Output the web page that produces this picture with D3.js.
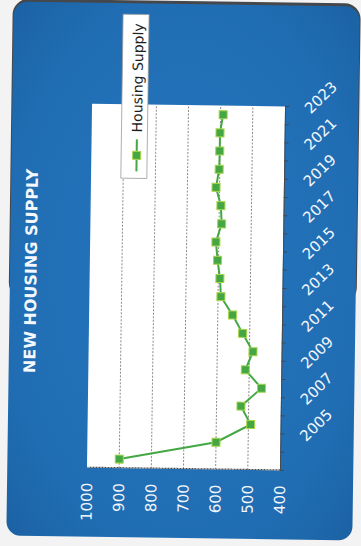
<!DOCTYPE html>
<html>
<head>
<meta charset="utf-8">
<script src="https://cdn.jsdelivr.net/npm/d3@7"></script>
<style>
  html, body { margin: 0; padding: 0; background: #f3f3f3; }
  svg { display: block; }
</style>
</head>
<body>
<svg id="chart" width="361" height="546"></svg>
<script>
// New housing supply, 2004–2023
const years = ["2004", "2005", "2006", "2007", "2008", "2009", "2010", "2011", "2012", "2013",
               "2014", "2015", "2016", "2017", "2018", "2019", "2020", "2021", "2022", "2023"];
const supply = [900, 600, 493, 524, 461, 512, 489, 522, 554, 591,
                595, 603, 609, 592, 595, 611, 602, 601, 601, 592];
const valueTicks = [1000, 900, 800, 700, 600, 500, 400];
const gridValues = [900, 800, 700, 600, 500];
const yearLabels = ["2005", "2007", "2009", "2011", "2013", "2015", "2017", "2019", "2021", "2023"];
const seriesName = "Housing Supply";
const title = "NEW HOUSING SUPPLY";

const W = 361, H = 546;
const svg = d3.select("#chart");

const defs = svg.append("defs");
const grad = defs.append("radialGradient").attr("id", "cardFill")
  .attr("cx", "50%").attr("cy", "50%").attr("r", "75%");
grad.append("stop").attr("offset", "0%").attr("stop-color", "#2575bd");
grad.append("stop").attr("offset", "70%").attr("stop-color", "#206db3");
grad.append("stop").attr("offset", "100%").attr("stop-color", "#1a5f9f");

// whole card sits slightly tilted
const page = svg.append("g").attr("transform", "rotate(0.8,180,273)");

// dark edge along the top of the card, then the blue card
page.append("rect").attr("x", 9).attr("y", 1).attr("width", 348).attr("height", 300)
  .attr("rx", 16).attr("fill", "#44474c");
page.append("rect").attr("x", 10).attr("y", 4).attr("width", 346).attr("height", 534)
  .attr("rx", 14).attr("fill", "url(#cardFill)");

// the chart itself is laid out sideways (rotated a quarter turn)
const chart = page.append("g").attr("transform", `translate(0,${H}) rotate(-90)`);

const plot = { left: 77, top: 89.7, width: 364, height: 193 };

const x = d3.scaleBand().domain(years)
  .range([plot.left, plot.left + plot.width]).paddingInner(0).paddingOuter(0);
const y = d3.scaleLinear().domain([400, 1000])
  .range([plot.top + plot.height, plot.top]);

// plot background
chart.append("rect")
  .attr("x", plot.left).attr("y", plot.top)
  .attr("width", plot.width).attr("height", plot.height)
  .attr("fill", "#ffffff");

// gridlines
chart.append("g").selectAll("line").data(gridValues).join("line")
  .attr("x1", plot.left).attr("x2", plot.left + plot.width)
  .attr("y1", d => y(d)).attr("y2", d => y(d))
  .attr("stroke", "#8c8c8c").attr("stroke-width", 1)
  .attr("stroke-dasharray", "2,1.5");

// value axis
const yAxis = chart.append("g")
  .attr("transform", `translate(${plot.left},0)`)
  .call(d3.axisLeft(y).tickValues(valueTicks).tickFormat(d3.format("d"))
    .tickSize(0).tickPadding(15));
yAxis.select(".domain").attr("stroke", "#4a4a4a").attr("stroke-width", 1.2)
  .attr("stroke-dasharray", "2,1");
yAxis.selectAll("text")
  .attr("fill", "#f2f6fb")
  .style("font-family", "'DejaVu Sans', sans-serif")
  .style("font-size", "15px");

// category axis
const xAxis = chart.append("g")
  .attr("transform", `translate(0,${plot.top + plot.height})`)
  .call(d3.axisBottom(x).tickValues(yearLabels).tickSize(0));
xAxis.select(".domain").attr("stroke", "#4a4a4a").attr("stroke-width", 1);
xAxis.selectAll("text")
  .attr("x", 0).attr("y", 0).attr("dy", "0.35em")
  .attr("text-anchor", "start")
  .attr("transform", "translate(5,22) rotate(45)")
  .attr("fill", "#f2f6fb")
  .style("font-family", "'DejaVu Sans', sans-serif")
  .style("font-size", "15px");

// tick marks at category boundaries
const bounds = years.map(d => x(d)).concat([x(years[years.length - 1]) + x.bandwidth()]);
xAxis.append("g").selectAll("line").data(bounds).join("line")
  .attr("x1", d => d).attr("x2", d => d)
  .attr("y1", 0).attr("y2", 4)
  .attr("stroke", "#3f4a58").attr("stroke-width", 1);

// series
const pts = years.map((yr, i) => ({ year: yr, v: supply[i] }));
const cx = d => x(d.year) + x.bandwidth() / 2;

chart.append("path").datum(pts)
  .attr("fill", "none")
  .attr("stroke", "#43a843").attr("stroke-width", 2)
  .attr("d", d3.line().x(cx).y(d => y(d.v)));

const ms = 8;
chart.append("g").selectAll("rect").data(pts).join("rect")
  .attr("x", d => cx(d) - ms / 2).attr("y", d => y(d.v) - ms / 2)
  .attr("width", ms).attr("height", ms)
  .attr("fill", "#44a744").attr("stroke", "#a9d54c").attr("stroke-width", 1);

// legend
const legend = chart.append("g");
legend.append("rect")
  .attr("x", 367).attr("y", 119.5).attr("width", 164).attr("height", 26)
  .attr("fill", "#ffffff").attr("stroke", "#9a9a9a").attr("stroke-width", 0.8);
legend.append("line")
  .attr("x1", 374).attr("x2", 406).attr("y1", 135).attr("y2", 135)
  .attr("stroke", "#43a843").attr("stroke-width", 2);
legend.append("rect")
  .attr("x", 390 - ms / 2).attr("y", 135 - ms / 2).attr("width", ms).attr("height", ms)
  .attr("fill", "#44a744").attr("stroke", "#a9d54c").attr("stroke-width", 1);
legend.append("text")
  .attr("x", 413).attr("y", 140)
  .attr("fill", "#1e1e1e")
  .style("font-family", "'DejaVu Sans', sans-serif")
  .style("font-size", "14px")
  .text(seriesName);

// title
chart.append("text")
  .attr("x", 273).attr("y", 31)
  .attr("text-anchor", "middle").attr("dominant-baseline", "central")
  .attr("fill", "#f4f8fc")
  .style("font-family", "'DejaVu Sans', sans-serif")
  .style("font-weight", "bold")
  .style("font-size", "16px")
  .text(title);
</script>
</body>
</html>
